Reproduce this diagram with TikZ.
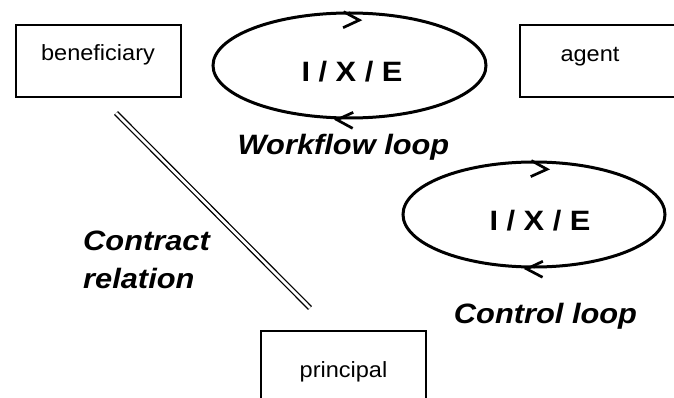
\documentclass[tikz,border=0pt]{standalone}
\usepackage{fontspec}
\newfontfamily\lblfont[FakeStretch=1.07]{Liberation Sans}
\newfontfamily\tagfont[FakeStretch=1.1]{Liberation Sans}
\newcommand\boxfont{\lblfont\fontsize{22}{26}\selectfont}
\newcommand\loopfont{\tagfont\bfseries\fontsize{28}{38}\selectfont}
\newcommand\captfont{\tagfont\bfseries\itshape\fontsize{28}{38}\selectfont}
\usetikzlibrary{decorations.markings}
\tikzset{
  box/.style={draw, line width=2pt, minimum width=165pt, minimum height=72pt,
    font=\boxfont, text height=9pt, text depth=9pt},
  barb/.style={line width=2.7pt, line join=miter},
  loop/.style 2 args={line width=3pt, postaction={decorate},
    decoration={markings,
      mark=at position #1 with {\draw[barb, yshift=2pt] (-16pt,8pt) -- (0pt,0pt) -- (-16pt,-8pt);},
      mark=at position #2 with {\draw[barb, yshift=-7pt] (-16pt,8pt) -- (0pt,0pt) -- (-16pt,-8pt);}}},
  caption/.style={font=\captfont, inner sep=0pt},
  contract/.style={double, line width=1.3pt, double distance=2.8pt}
}

\begin{document}
\begin{tikzpicture}[x=1pt,y=-1pt]
      \useasboundingbox (0,0) rectangle (674,398);
      \node[box] (bene) at (98,61) {beneficiary};
      \node[box] (agent) at (602,61) {};
      \node[font=\boxfont, anchor=base] (agentname) at (590,62) {agent};
      \node[box, minimum height=92pt] (prin) at (343.5,377) {principal};
      \coordinate (wfloop) at (349.5,65.5);
      \coordinate (ctloop) at (534,214.5);
      \draw[loop={0.27}{0.766}] (wfloop) ellipse [x radius=136.5, y radius=52.5];
      \draw[loop={0.262}{0.772}] (ctloop) ellipse [x radius=131, y radius=52.5];
      \node[font=\loopfont] (wfixe) at (352,71.5) {I / X / E};
      \node[font=\loopfont] (ctixe) at (540,220.5) {I / X / E};
      \node[caption, anchor=base] (wfname) at (343.5,155) {Workflow loop};
      \node[caption, anchor=base] (ctname) at (545.5,323) {Control loop};
      \node[caption, anchor=base west, align=left] (relname) at (83,288) {Contract\\relation};
      \coordinate (relA) at (116,113);
      \coordinate (relB) at (310,308);
      \draw[contract] (relA) -- (relB);
\end{tikzpicture}
\end{document}
